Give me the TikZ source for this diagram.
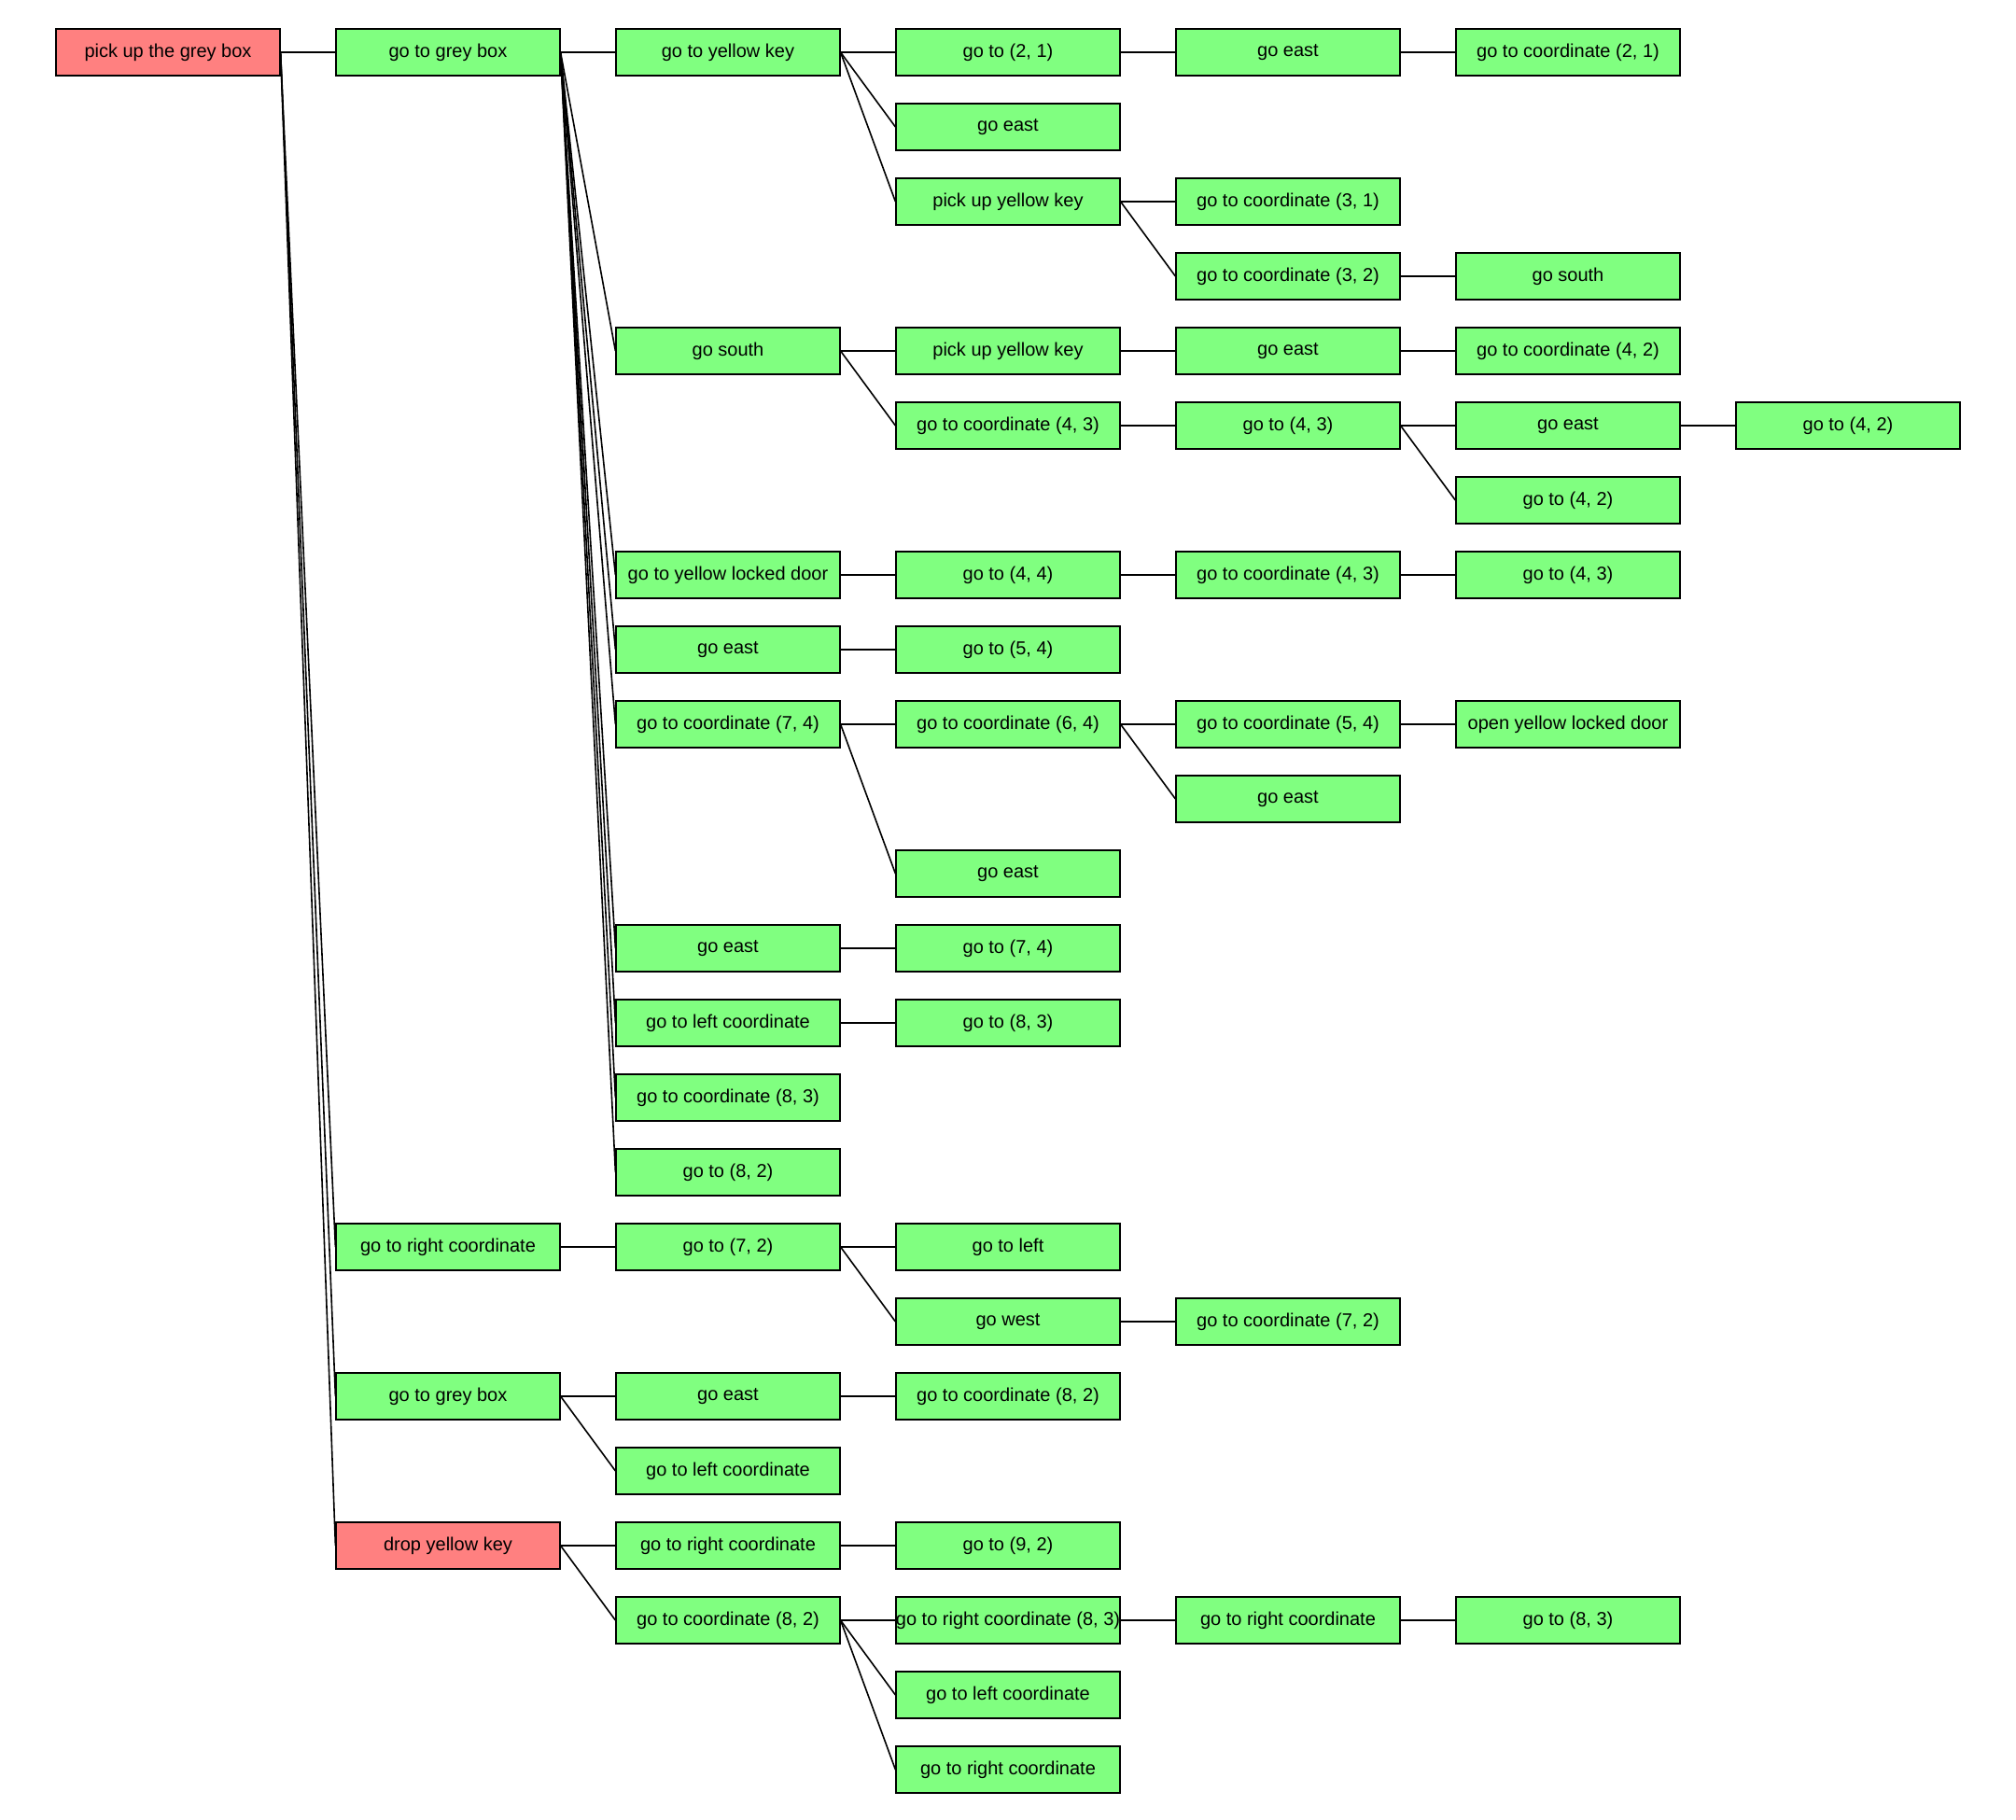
\documentclass[tikz,border=0pt]{standalone}
\usepackage{fontspec}
\setmainfont{Liberation Sans}
\definecolor{taskred}{HTML}{FF8080}
\definecolor{taskgreen}{HTML}{80FF80}
\begin{document}
\begin{tikzpicture}[
  x=150pt, y=-40pt,
  task/.style={draw=black, line width=0.6pt, fill=taskgreen,
    minimum width=120pt, minimum height=25pt, inner sep=0pt,
    font=\fontsize{10}{12}\selectfont},
  goal/.style={task, fill=taskred},
  link/.style={draw=black, line width=0.8pt}
]
\useasboundingbox (-0.6,-0.7) rectangle (6.6,23.675);

% column 0
\node[goal] (c0r0) at (0,0) {pick up the grey box};

% column 1
\node[task] (c1r0)  at (1,0)  {go to grey box};
\node[task] (c1r16) at (1,16) {go to right coordinate};
\node[task] (c1r18) at (1,18) {go to grey box};
\node[goal] (c1r20) at (1,20) {drop yellow key};

% column 2
\node[task] (c2r0)  at (2,0)  {go to yellow key};
\node[task] (c2r4)  at (2,4)  {go south};
\node[task] (c2r7)  at (2,7)  {go to yellow locked door};
\node[task] (c2r8)  at (2,8)  {go east};
\node[task] (c2r9)  at (2,9)  {go to coordinate (7, 4)};
\node[task] (c2r12) at (2,12) {go east};
\node[task] (c2r13) at (2,13) {go to left coordinate};
\node[task] (c2r14) at (2,14) {go to coordinate (8, 3)};
\node[task] (c2r15) at (2,15) {go to (8, 2)};
\node[task] (c2r16) at (2,16) {go to (7, 2)};
\node[task] (c2r18) at (2,18) {go east};
\node[task] (c2r19) at (2,19) {go to left coordinate};
\node[task] (c2r20) at (2,20) {go to right coordinate};
\node[task] (c2r21) at (2,21) {go to coordinate (8, 2)};

% column 3
\node[task] (c3r0)  at (3,0)  {go to (2, 1)};
\node[task] (c3r1)  at (3,1)  {go east};
\node[task] (c3r2)  at (3,2)  {pick up yellow key};
\node[task] (c3r4)  at (3,4)  {pick up yellow key};
\node[task] (c3r5)  at (3,5)  {go to coordinate (4, 3)};
\node[task] (c3r7)  at (3,7)  {go to (4, 4)};
\node[task] (c3r8)  at (3,8)  {go to (5, 4)};
\node[task] (c3r9)  at (3,9)  {go to coordinate (6, 4)};
\node[task] (c3r11) at (3,11) {go east};
\node[task] (c3r12) at (3,12) {go to (7, 4)};
\node[task] (c3r13) at (3,13) {go to (8, 3)};
\node[task] (c3r16) at (3,16) {go to left};
\node[task] (c3r17) at (3,17) {go west};
\node[task] (c3r18) at (3,18) {go to coordinate (8, 2)};
\node[task] (c3r20) at (3,20) {go to (9, 2)};
\node[task] (c3r21) at (3,21) {go to right coordinate (8, 3)};
\node[task] (c3r22) at (3,22) {go to left coordinate};
\node[task] (c3r23) at (3,23) {go to right coordinate};

% column 4
\node[task] (c4r0)  at (4,0)  {go east};
\node[task] (c4r2)  at (4,2)  {go to coordinate (3, 1)};
\node[task] (c4r3)  at (4,3)  {go to coordinate (3, 2)};
\node[task] (c4r4)  at (4,4)  {go east};
\node[task] (c4r5)  at (4,5)  {go to (4, 3)};
\node[task] (c4r7)  at (4,7)  {go to coordinate (4, 3)};
\node[task] (c4r9)  at (4,9)  {go to coordinate (5, 4)};
\node[task] (c4r10) at (4,10) {go east};
\node[task] (c4r17) at (4,17) {go to coordinate (7, 2)};
\node[task] (c4r21) at (4,21) {go to right coordinate};

% column 5
\node[task] (c5r0)  at (5,0)  {go to coordinate (2, 1)};
\node[task] (c5r3)  at (5,3)  {go south};
\node[task] (c5r4)  at (5,4)  {go to coordinate (4, 2)};
\node[task] (c5r5)  at (5,5)  {go east};
\node[task] (c5r6)  at (5,6)  {go to (4, 2)};
\node[task] (c5r7)  at (5,7)  {go to (4, 3)};
\node[task] (c5r9)  at (5,9)  {open yellow locked door};
\node[task] (c5r21) at (5,21) {go to (8, 3)};

% column 6
\node[task] (c6r5)  at (6,5)  {go to (4, 2)};

% parent -> child links
\foreach \p/\q in {
  c0r0/c1r0, c0r0/c1r16, c0r0/c1r18, c0r0/c1r20,
  c1r0/c2r0, c1r0/c2r4, c1r0/c2r7, c1r0/c2r8, c1r0/c2r9,
  c1r0/c2r12, c1r0/c2r13, c1r0/c2r14, c1r0/c2r15,
  c2r0/c3r0, c2r0/c3r1, c2r0/c3r2,
  c3r0/c4r0, c4r0/c5r0,
  c3r2/c4r2, c3r2/c4r3, c4r3/c5r3,
  c2r4/c3r4, c2r4/c3r5, c3r4/c4r4, c4r4/c5r4,
  c3r5/c4r5, c4r5/c5r5, c4r5/c5r6, c5r5/c6r5,
  c2r7/c3r7, c3r7/c4r7, c4r7/c5r7,
  c2r8/c3r8,
  c2r9/c3r9, c2r9/c3r11, c3r9/c4r9, c3r9/c4r10, c4r9/c5r9,
  c2r12/c3r12, c2r13/c3r13,
  c1r16/c2r16, c2r16/c3r16, c2r16/c3r17, c3r17/c4r17,
  c1r18/c2r18, c1r18/c2r19, c2r18/c3r18,
  c1r20/c2r20, c1r20/c2r21, c2r20/c3r20,
  c2r21/c3r21, c2r21/c3r22, c2r21/c3r23,
  c3r21/c4r21, c4r21/c5r21}
  \draw[link] (\p.east) -- (\q.west);
\end{tikzpicture}
\end{document}
